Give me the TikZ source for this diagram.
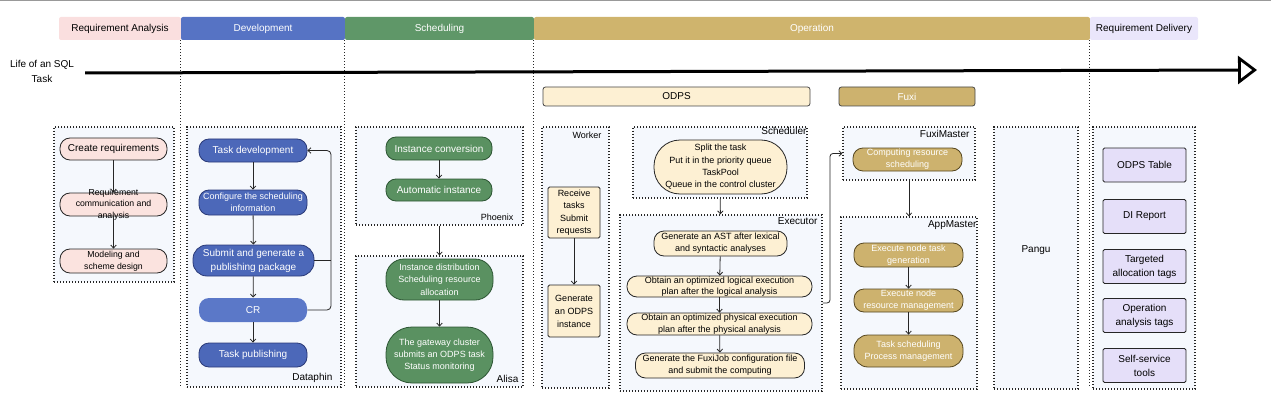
\documentclass[tikz,border=0pt]{standalone}
\usepackage{fontspec}
\setmainfont{Liberation Sans}
\usetikzlibrary{arrows.meta}

\definecolor{rapink}{HTML}{FADFDF}
\definecolor{rapinknode}{HTML}{FBE3DF}
\definecolor{devblue}{HTML}{5673C4}
\definecolor{devnode}{HTML}{4C68B9}
\definecolor{devline}{HTML}{2A3A78}
\definecolor{crblue}{HTML}{5B78C8}
\definecolor{schgreen}{HTML}{5F9768}
\definecolor{schnode}{HTML}{5A9161}
\definecolor{schline}{HTML}{2C5533}
\definecolor{opgold}{HTML}{CFB46D}
\definecolor{goldnode}{HTML}{CDB26E}
\definecolor{goldline}{HTML}{55461F}
\definecolor{odpsfill}{HTML}{FDF0D3}
\definecolor{dellav}{HTML}{EAE6FB}
\definecolor{delnode}{HTML}{E5DFF9}
\definecolor{grpfill}{HTML}{F5F8FD}
\definecolor{ink}{HTML}{262626}

\newcommand{\fa}{\fontsize{8.5}{12}\selectfont}
\newcommand{\fb}{\fontsize{9}{12.3}\selectfont}
\newcommand{\fc}{\fontsize{10}{14}\selectfont}

\begin{document}
\begin{tikzpicture}[x=1pt, y=-1pt, >={Straight Barb[length=3pt,width=5.5pt]}, font=\fa]
        \tikzset{hdr/.style={minimum height=23pt, inner sep=0pt, rounded corners=2pt, font=\fc},
                 grp/.style={draw=ink, line width=1.2pt, dash pattern=on 1.2pt off 1.8pt, fill=grpfill, inner sep=0pt},
                 sep/.style={draw=ink, line width=1pt, dash pattern=on 1pt off 2pt},
                 pill/.style={draw=ink, line width=0.8pt, rounded corners=10pt, align=center, inner sep=0pt},
                 devpill/.style={pill, fill=devnode, draw=devline, text=white},
                 grnpill/.style={pill, fill=schnode, draw=schline, text=white},
                 odpspill/.style={pill, fill=odpsfill},
                 goldpill/.style={pill, fill=goldnode, draw=goldline, text=white},
                 card/.style={draw=ink, line width=0.8pt, rounded corners=1.5pt, align=center, inner sep=0pt},
                 bar/.style={draw=ink!85, line width=0.8pt, rounded corners=2.5pt, minimum height=19pt, inner sep=0pt, font=\fc},
                 arr/.style={draw=ink, line width=0.8pt, ->},
                 lbl/.style={inner sep=0pt, font=\fc}}
        \useasboundingbox (0,0) rectangle (1271,401);
        \draw[gray!80, line width=1.2pt] (0,0.6) -- (1271,0.6);

        % phase headers
        \node[hdr, fill=rapink, minimum width=122pt] (hreq) at (120,28.5) {Requirement Analysis};
        \node[hdr, fill=devblue, text=white, minimum width=164pt] (hdev) at (263,28.5) {Development};
        \node[hdr, fill=schgreen, text=white, minimum width=189pt] (hsch) at (439.5,28.5) {Scheduling};
        \node[hdr, fill=opgold, text=white, minimum width=556pt] (hop) at (812,28.5) {Operation};
        \node[hdr, fill=dellav, minimum width=108pt] (hdel) at (1144,28.5) {Requirement Delivery};
        \coordinate (bot) at (0,388);
        \foreach \h in {hdev,hsch,hop,hdel}
            \draw[sep] (\h.south west) -- (\h.south west |- bot);

        % time axis
        \node[align=center, font=\fontsize{10}{15}\selectfont, inner sep=2pt] (life) at (42,71.5) {Life of an SQL\\Task};
        \coordinate (axend) at (1257,70);
        \draw[line width=3pt, -{Triangle[open, length=19pt, width=28pt, line width=2.8pt]}] ([xshift=9pt,yshift=-1.5pt]life.east) -- (axend);

        \node[bar, fill=odpsfill, minimum width=267pt] (odps) at (676.5,96.5) {ODPS};
        \node[bar, fill=goldnode, text=white, minimum width=136pt] (fuxi) at (907,96.5) {Fuxi};

        % group boxes
        \node[grp, minimum width=120pt, minimum height=155pt] (reqgrp) at (114,204.5) {};
        \node[grp, minimum width=154pt, minimum height=260pt] (dataphin) at (264,257) {};
        \node[grp, minimum width=167pt, minimum height=98pt] (phoenix) at (439.5,176) {};
        \node[grp, minimum width=167pt, minimum height=131pt] (alisa) at (439.5,321.5) {};
        \node[grp, minimum width=67pt, minimum height=261pt] (worker) at (575.5,257.5) {};
        \node[grp, minimum width=174pt, minimum height=71pt] (scheduler) at (720,162.5) {};
        \node[grp, minimum width=202pt, minimum height=176pt] (executor) at (721,303) {};
        \node[grp, minimum width=132pt, minimum height=53pt] (fuximaster) at (909,153.5) {};
        \node[grp, minimum width=136pt, minimum height=172pt] (appmaster) at (909,303) {};
        \node[grp, minimum width=84pt, minimum height=262pt] (pangu) at (1036,258) {};
        \node[grp, minimum width=102pt, minimum height=262pt] (delgrp) at (1144,258) {};

        \node[lbl, anchor=south east] (ldataphin) at ([xshift=-9pt,yshift=5pt]dataphin.south east) {Dataphin};
        \node[lbl, font=\fb, anchor=south east] (lphoenix) at ([xshift=-10pt,yshift=5pt]phoenix.south east) {Phoenix};
        \node[lbl, anchor=south east] (lalisa) at ([xshift=-5pt,yshift=5pt]alisa.south east) {Alisa};
        \node[lbl, font=\fb, anchor=north east] (lworker) at ([xshift=-8pt,yshift=-5pt]worker.north east) {Worker};
        \node[lbl, anchor=north east] (lsched) at ([xshift=-1pt,yshift=-1pt]scheduler.north east) {Scheduler};
        \node[lbl, anchor=north east] (lexec) at ([xshift=-5pt,yshift=-3pt]executor.north east) {Executor};
        \node[lbl, anchor=north east] (lfm) at ([xshift=-6pt,yshift=-4pt]fuximaster.north east) {FuxiMaster};
        \node[lbl, anchor=north east] (lam) at ([xshift=-1pt,yshift=-4pt]appmaster.north east) {AppMaster};
        \node[lbl] (lpangu) at (1036,250) {Pangu};

        % requirement analysis
        \node[pill, fill=rapinknode, minimum width=107pt, minimum height=22pt, font=\fc] (creq) at (113.5,149) {Create requirements};
        \node[pill, fill=rapinknode, minimum width=107pt, minimum height=23pt,
              label={[align=center, font=\fontsize{8.7}{11.5}\selectfont]center:Requirement\\communication and\\analysis}] (rcomm) at (113.5,204.5) {};
        \node[pill, fill=rapinknode, minimum width=107pt, minimum height=24pt, font=\fontsize{8.7}{12}\selectfont] (model) at (113.5,261) {Modeling and\\scheme design};
        \draw[arr] (creq) -- (rcomm);
        \draw[arr] (rcomm) -- (model);

        % development
        \node[devpill, minimum width=108pt, minimum height=23pt, font=\fc] (taskdev) at (253,150.5) {Task development};
        \node[devpill, minimum width=108pt, minimum height=25pt, font=\fb] (config) at (253,202.5) {Configure the scheduling\\information};
        \node[devpill, minimum width=121pt, minimum height=31pt, rounded corners=14pt, font=\fc] (submit) at (253.5,260.5) {Submit and generate a\\publishing package};
        \node[devpill, draw=none, fill=crblue, minimum width=108pt, minimum height=24pt, font=\fc] (cr) at (253,310) {CR};
        \node[devpill, minimum width=108pt, minimum height=24pt, font=\fc] (publish) at (253,355) {Task publishing};
        \draw[arr] (taskdev) -- (config);
        \draw[arr] (config) -- (submit);
        \draw[arr] (submit) -- (cr);
        \draw[arr] (cr) -- (publish);
        \coordinate (fb) at (331,0);
        \draw[arr, rounded corners=4pt] (cr.east) -| (fb |- taskdev.east) -- (taskdev.east);
        \draw[arr, -, rounded corners=3pt] (submit.east) -- (fb |- submit.east);

        % scheduling
        \node[grnpill, minimum width=106pt, minimum height=23pt, font=\fc] (iconv) at (439,148.5) {Instance conversion};
        \node[grnpill, minimum width=106pt, minimum height=22pt, font=\fc] (autoi) at (439,190) {Automatic instance};
        \node[grnpill, minimum width=107pt, minimum height=41pt, rounded corners=18pt, font=\fb] (idist) at (439.5,279.5) {Instance distribution\\Scheduling resource\\allocation};
        \node[grnpill, minimum width=107pt, minimum height=56pt, rounded corners=26pt, font=\fb] (gateway) at (439.5,355) {The gateway cluster\\submits an ODPS task\\Status monitoring};
        \draw[arr] (iconv) -- (autoi);
        \draw[arr] (phoenix) -- (alisa);
        \draw[arr] (idist) -- (gateway);

        % operation: ODPS
        \node[card, fill=odpsfill, minimum width=52pt, minimum height=51pt, font=\fontsize{9}{12.5}\selectfont] (recv) at (574,212.5) {Receive\\tasks\\Submit\\requests};
        \node[card, fill=odpsfill, minimum width=52pt, minimum height=52pt, font=\fontsize{9}{13}\selectfont] (genodps) at (574,311) {Generate\\an ODPS\\instance};
        \draw[arr] (recv) -- (genodps);

        \node[odpspill, minimum width=133pt, minimum height=54pt, rounded corners=26pt, font=\fb] (schnode) at (720.5,167) {Split the task\\Put it in the priority queue\\TaskPool\\Queue in the control cluster};
        \draw[arr] (scheduler) -- (executor);

        \node[odpspill, minimum width=133pt, minimum height=25pt, font=\fb] (ast) at (720.5,243.5) {Generate an AST after lexical\\and syntactic analyses};
        \node[odpspill, minimum width=185pt, minimum height=21pt, font=\fontsize{9}{11.5}\selectfont] (logical) at (719.5,286.5) {Obtain an optimized logical execution\\plan after the logical analysis};
        \node[odpspill, minimum width=185pt, minimum height=22pt, font=\fontsize{9}{11.5}\selectfont] (physical) at (719.5,324) {Obtain an optimized physical execution\\plan after the physical analysis};
        \node[odpspill, minimum width=169pt, minimum height=25pt, font=\fb] (fuxijob) at (720,365.5) {Generate the FuxiJob configuration file\\and submit the computing};
        \draw[arr] (ast) -- (logical);
        \draw[arr] (logical) -- (physical);
        \draw[arr] (physical) -- (fuxijob);

        % operation: Fuxi
        \coordinate (ex) at (830,0);
        \draw[arr, rounded corners=3pt] (executor.east) -| (ex |- fuximaster.west) -- (fuximaster.west);
        \node[goldpill, minimum width=109pt, minimum height=23pt, font=\fb] (compute) at (907.5,159.5) {Computing resource\\scheduling};
        \draw[arr] (fuximaster) -- (appmaster);
        \node[goldpill, minimum width=109pt, minimum height=24pt, font=\fb] (exgen) at (908.5,255) {Execute node task\\generation};
        \node[goldpill, minimum width=109pt, minimum height=23pt, font=\fb] (exres) at (908.5,300.5) {Execute node\\resource management};
        \node[goldpill, minimum width=109pt, minimum height=32pt, rounded corners=14pt, font=\fb] (tsched) at (908.5,351) {Task scheduling\\Process management};
        \draw[arr] (exgen) -- (exres);
        \draw[arr] (exres) -- (tsched);

        % requirement delivery
        \node[card, fill=delnode, minimum width=83pt, minimum height=34pt, font=\fc] (odpstab) at (1144.5,165) {ODPS Table};
        \node[card, fill=delnode, minimum width=83pt, minimum height=34pt, font=\fc] (direp) at (1144.5,216.5) {DI Report};
        \node[card, fill=delnode, minimum width=83pt, minimum height=34pt, font=\fc] (targ) at (1144.5,266.5) {Targeted\\allocation tags};
        \node[card, fill=delnode, minimum width=83pt, minimum height=34pt, font=\fc] (opan) at (1144.5,315.5) {Operation\\analysis tags};
        \node[card, fill=delnode, minimum width=83pt, minimum height=34pt, font=\fc] (selfsvc) at (1144.5,365.5) {Self-service\\tools};
    \end{tikzpicture}
\end{document}
